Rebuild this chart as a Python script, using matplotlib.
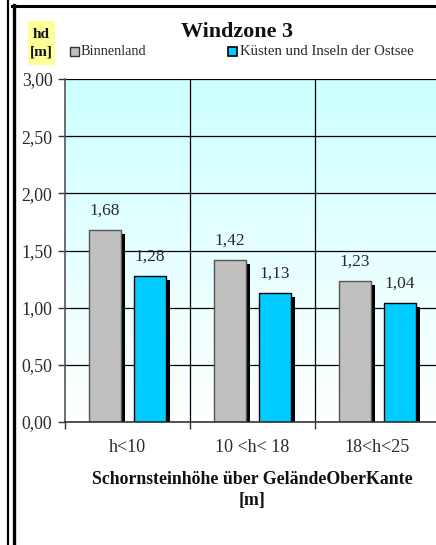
import numpy as np
import matplotlib
matplotlib.use("Agg")
import matplotlib.pyplot as plt
from matplotlib.lines import Line2D
from matplotlib.patches import Rectangle
import matplotlib.transforms as mtransforms

categories = ["h<10", "10 <h< 18", "18<h<25"]
binnenland = [1.68, 1.42, 1.23]
kuesten = [1.28, 1.13, 1.04]
series_names = ["Binnenland", "Küsten und Inseln der Ostsee"]
yticks = [0.0, 0.5, 1.0, 1.5, 2.0, 2.5, 3.0]

W, H = 436, 545
plt.rcParams['font.family'] = ['Liberation Serif', 'DejaVu Serif']
fig = plt.figure(figsize=(W / 100, H / 100), dpi=100)
fig.patch.set_facecolor('white')

def fx(px):
    return px / W

def fy(py):
    return 1 - py / H

TXT = '#2a2a2a'
ax_l, ax_r, ax_t, ax_b = 65, 440, 79, 422
ax = fig.add_axes([fx(ax_l), fy(ax_b), (ax_r - ax_l) / W, (ax_b - ax_t) / H])

# gradient background
grad = np.linspace(1, 0, 256).reshape(-1, 1)
top = np.array([0xCC, 0xFF, 0xFF]) / 255
bot = np.array([1.0, 1.0, 1.0])
img = bot + (top - bot) * grad[..., None]
img = img.reshape(256, 1, 3)
ax.imshow(img, extent=[0, 1, 0, 1], transform=ax.transAxes, aspect='auto', zorder=0)
ax.set_xlim(-0.5, 2.5)
ax.set_ylim(0, 3)

# grid
for y in yticks[1:]:
    ax.axhline(y, color='black', lw=0.9, zorder=1)
for xb in [0.5, 1.5]:
    ax.axvline(xb, color='black', lw=0.9, zorder=1)

x = np.arange(len(categories))
off = 0.18
bw = 0.26
shadow_tr = mtransforms.offset_copy(ax.transData, fig=fig, x=4, y=-4, units='dots')
ax.bar(x - off, binnenland, bw, color='black', zorder=2, transform=shadow_tr)
ax.bar(x + off, kuesten, bw, color='black', zorder=2, transform=shadow_tr)
ax.bar(x - off, binnenland, bw, color='#C0C0C0', edgecolor='#555555', lw=1.0, zorder=3)
ax.bar(x + off, kuesten, bw, color='#00CCFF', edgecolor='black', lw=1.0, zorder=3)

for xs, vals in ((x - off, binnenland), (x + off, kuesten)):
    for xi, v in zip(xs, vals):
        ax.annotate(f"{v:.2f}".replace('.', ','), (xi, v), xytext=(0, 11), textcoords='offset points',
                    ha='center', va='baseline', fontsize=12.5, color=TXT, zorder=4)

ax.set_yticks(yticks)
ax.set_yticklabels([f"{t:.2f}".replace('.', ',') for t in yticks], fontsize=12.8, color=TXT)
ax.set_xticks([-0.5, 0.5, 1.5, 2.5])
ax.set_xticklabels([])
ax.tick_params(axis='y', direction='out', length=5, width=1, color='#333333', pad=4)
ax.tick_params(axis='x', direction='out', length=5, width=1, color='#333333')
for s in ['top', 'right']:
    ax.spines[s].set_visible(False)
ax.spines['left'].set_color('#555555')
ax.spines['bottom'].set_color('#333333')
ax.spines['left'].set_linewidth(1.2)
ax.spines['bottom'].set_linewidth(1.2)
ax.spines['left'].set_zorder(5)
ax.spines['bottom'].set_zorder(5)

for xi, lab in zip(x, categories):
    ax.text(xi, -0.22, lab, ha='center', va='center', fontsize=13, color=TXT,
            transform=ax.transData, clip_on=False)

# x label
fig.text(fx(252), fy(480), "Schornsteinhöhe über GeländeOberKante", ha='center', va='center',
         fontsize=12.8, fontweight='bold', color='#111111')
fig.text(fx(252), fy(500), "[m]", ha='center', va='center',
         fontsize=12.8, fontweight='bold', color='#111111')

# title
fig.text(fx(237), fy(32), "Windzone 3", ha='center', va='center', fontsize=15.8,
         fontweight='bold', color='#111111')

# legend
fig.add_artist(Rectangle((fx(70), fy(56)), 9 / W, 9 / H, transform=fig.transFigure,
                         facecolor='#C0C0C0', edgecolor='#333333', lw=1))
fig.text(fx(81), fy(51.5), series_names[0], ha='left', va='center', fontsize=10.3, color=TXT)
fig.add_artist(Rectangle((fx(228), fy(56)), 9 / W, 9 / H, transform=fig.transFigure,
                         facecolor='#00CCFF', edgecolor='black', lw=1.2))
fig.text(fx(239.5), fy(51.5), series_names[1], ha='left', va='center', fontsize=10.6, color=TXT)

# hd [m] yellow box
fig.add_artist(Rectangle((fx(28), fy(65)), 27 / W, 44 / H, transform=fig.transFigure,
                         facecolor='#FFFF99', edgecolor='none'))
fig.text(fx(41.5), fy(34), "hd", ha='center', va='center', fontsize=11, fontweight='bold', color='#111111')
fig.text(fx(41.5), fy(52), "[m]", ha='center', va='center', fontsize=11, fontweight='bold', color='#111111')

# borders
fig.add_artist(Line2D([fx(8), fx(8)], [0, 1], transform=fig.transFigure, color='black', lw=1.6))
fig.add_artist(Line2D([fx(13.5), fx(13.5)], [0, fy(5)], transform=fig.transFigure, color='black', lw=2.4))
fig.add_artist(Line2D([fx(12.3), 1], [fy(6), fy(6)], transform=fig.transFigure, color='black', lw=2.2))

fig.savefig("out.png", dpi=100, facecolor='white')
